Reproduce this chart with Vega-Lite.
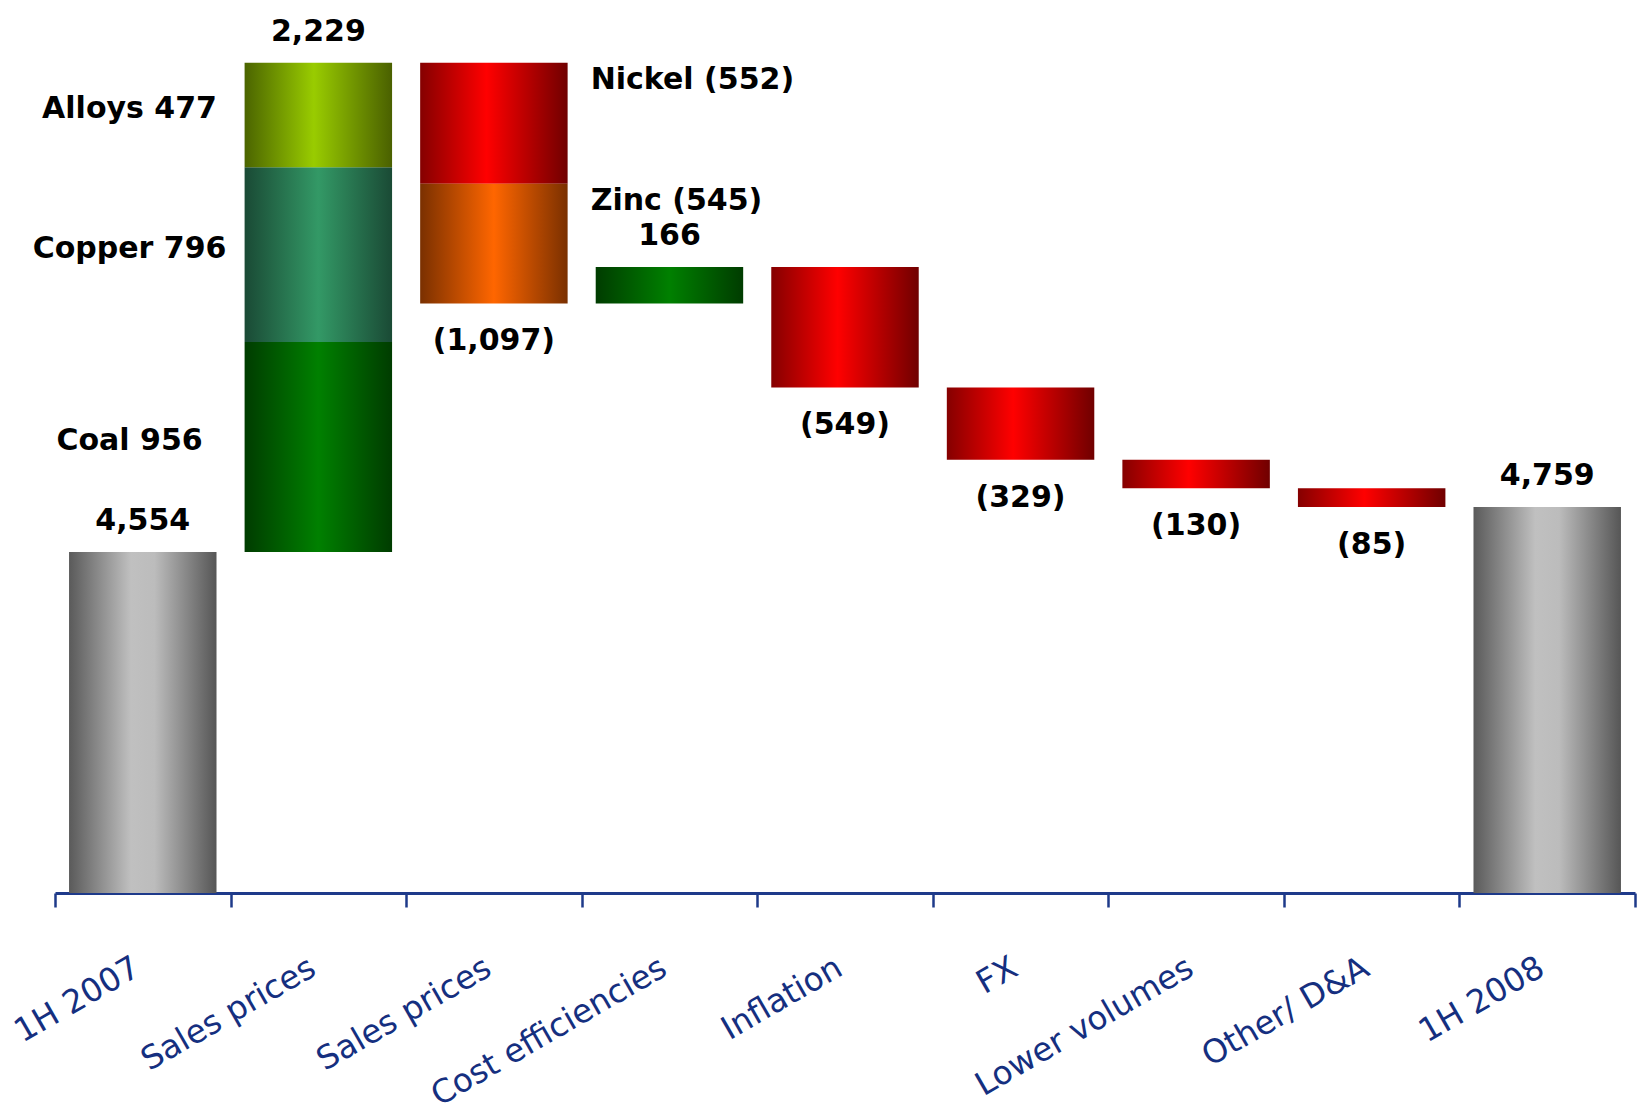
{
  "$schema": "https://vega.github.io/schema/vega-lite/v6.json",
  "width": 1580,
  "height": 878,
  "autosize": {"type": "none"},
  "padding": {"left": 55, "top": 15, "right": 3, "bottom": 226},
  "background": "white",
  "config": {"view": {"stroke": null}},
  "datasets": {
    "bars": [
      {"cat": "1H 2007", "seg": "Base", "y0": 0, "y1": 4554, "grad": "grey"},
      {"cat": "Sales prices", "seg": "Coal", "y0": 4554, "y1": 5510, "grad": "coal"},
      {"cat": "Sales prices", "seg": "Copper", "y0": 5510, "y1": 6306, "grad": "copper"},
      {"cat": "Sales prices", "seg": "Alloys", "y0": 6306, "y1": 6783, "grad": "alloys"},
      {"cat": "Sales prices ", "seg": "Nickel", "y0": 6783, "y1": 6231, "grad": "red"},
      {"cat": "Sales prices ", "seg": "Zinc", "y0": 6231, "y1": 5686, "grad": "orange"},
      {"cat": "Cost efficiencies", "seg": "Cost efficiencies", "y0": 5686, "y1": 5852, "grad": "coal"},
      {"cat": "Inflation", "seg": "Inflation", "y0": 5852, "y1": 5303, "grad": "red"},
      {"cat": "FX", "seg": "FX", "y0": 5303, "y1": 4974, "grad": "red"},
      {"cat": "Lower volumes", "seg": "Lower volumes", "y0": 4974, "y1": 4844, "grad": "red"},
      {"cat": "Other/ D&A", "seg": "Other/ D&A", "y0": 4844, "y1": 4759, "grad": "red"},
      {"cat": "1H 2008", "seg": "Base", "y0": 0, "y1": 4759, "grad": "grey"}
    ],
    "labels": [
      {"cat": "1H 2007", "y": 4554, "text": "4,554", "pos": "top"},
      {"cat": "Sales prices", "y": 6783, "text": "2,229", "pos": "top"},
      {"cat": "Sales prices ", "y": 5686, "text": "(1,097)", "pos": "bottom"},
      {"cat": "Cost efficiencies", "y": 5852, "text": "166", "pos": "top"},
      {"cat": "Inflation", "y": 5303, "text": "(549)", "pos": "bottom"},
      {"cat": "FX", "y": 4974, "text": "(329)", "pos": "bottom"},
      {"cat": "Lower volumes", "y": 4844, "text": "(130)", "pos": "bottom"},
      {"cat": "Other/ D&A", "y": 4759, "text": "(85)", "pos": "bottom"},
      {"cat": "1H 2008", "y": 4759, "text": "4,759", "pos": "top"},
      {"cat": "Sales prices", "y": 6544.5, "text": "Alloys 477", "pos": "left"},
      {"cat": "Sales prices", "y": 5908, "text": "Copper 796", "pos": "left"},
      {"cat": "Sales prices", "y": 5032, "text": "Coal 956", "pos": "left"},
      {"cat": "Sales prices ", "y": 6783, "text": "Nickel (552)", "pos": "right"},
      {"cat": "Sales prices ", "y": 6231, "text": "Zinc (545)", "pos": "right"}
    ]
  },
  "encoding": {
    "x": {
      "field": "cat",
      "type": "nominal",
      "sort": ["1H 2007", "Sales prices", "Sales prices ", "Cost efficiencies", "Inflation", "FX", "Lower volumes", "Other/ D&A", "1H 2008"],
      "scale": {"paddingInner": 0, "paddingOuter": 0},
      "axis": {
        "title": null,
        "tickBand": "extent",
        "labelAngle": -30,
        "labelAlign": "right",
        "labelBaseline": "top",
        "labelFont": "DejaVu Sans",
        "labelFontSize": 32.5,
        "labelColor": "#152f7f",
        "labelPadding": 44,
        "labelOffset": -14,
        "labelLimit": 0,
        "labelOverlap": false,
        "labelBound": false,
        "domainColor": "#1e3a8a",
        "domainWidth": 3,
        "tickColor": "#1e3a8a",
        "tickWidth": 2.5,
        "tickSize": 14
      }
    }
  },
  "layer": [
    {
      "data": {"name": "bars"},
      "transform": [{"filter": "datum.grad === 'grey'"}],
      "mark": {"type": "bar", "clip": true, "width": {"band": 0.84}, "color": {"gradient": "linear", "x1": 0, "y1": 0, "x2": 1, "y2": 0, "stops": [{"offset": 0, "color": "#5a5a5a"}, {"offset": 0.42, "color": "#c0c0c0"}, {"offset": 0.58, "color": "#bcbcbc"}, {"offset": 1, "color": "#565656"}]}},
      "encoding": {
        "y": {"field": "y0", "type": "quantitative", "scale": {"domain": [3000, 7000], "zero": false, "nice": false}, "axis": null},
        "y2": {"field": "y1"}
      }
    },
    {
      "data": {"name": "bars"},
      "transform": [{"filter": "datum.grad === 'coal'"}],
      "mark": {"type": "bar", "clip": true, "width": {"band": 0.84}, "color": {"gradient": "linear", "x1": 0, "y1": 0, "x2": 1, "y2": 0, "stops": [{"offset": 0, "color": "#003c00"}, {"offset": 0.5, "color": "#008000"}, {"offset": 1, "color": "#003c00"}]}},
      "encoding": {
        "y": {"field": "y0", "type": "quantitative", "scale": {"domain": [3000, 7000], "zero": false, "nice": false}, "axis": null},
        "y2": {"field": "y1"}
      }
    },
    {
      "data": {"name": "bars"},
      "transform": [{"filter": "datum.grad === 'copper'"}],
      "mark": {"type": "bar", "clip": true, "width": {"band": 0.84}, "color": {"gradient": "linear", "x1": 0, "y1": 0, "x2": 1, "y2": 0, "stops": [{"offset": 0, "color": "#1a4a35"}, {"offset": 0.5, "color": "#339966"}, {"offset": 1, "color": "#1a4a35"}]}},
      "encoding": {
        "y": {"field": "y0", "type": "quantitative", "scale": {"domain": [3000, 7000], "zero": false, "nice": false}, "axis": null},
        "y2": {"field": "y1"}
      }
    },
    {
      "data": {"name": "bars"},
      "transform": [{"filter": "datum.grad === 'alloys'"}],
      "mark": {"type": "bar", "clip": true, "width": {"band": 0.84}, "color": {"gradient": "linear", "x1": 0, "y1": 0, "x2": 1, "y2": 0, "stops": [{"offset": 0, "color": "#4b6400"}, {"offset": 0.47, "color": "#99cc00"}, {"offset": 1, "color": "#4a6000"}]}},
      "encoding": {
        "y": {"field": "y0", "type": "quantitative", "scale": {"domain": [3000, 7000], "zero": false, "nice": false}, "axis": null},
        "y2": {"field": "y1"}
      }
    },
    {
      "data": {"name": "bars"},
      "transform": [{"filter": "datum.grad === 'red'"}],
      "mark": {"type": "bar", "clip": true, "width": {"band": 0.84}, "color": {"gradient": "linear", "x1": 0, "y1": 0, "x2": 1, "y2": 0, "stops": [{"offset": 0, "color": "#850000"}, {"offset": 0.45, "color": "#ff0000"}, {"offset": 1, "color": "#700000"}]}},
      "encoding": {
        "y": {"field": "y0", "type": "quantitative", "scale": {"domain": [3000, 7000], "zero": false, "nice": false}, "axis": null},
        "y2": {"field": "y1"}
      }
    },
    {
      "data": {"name": "bars"},
      "transform": [{"filter": "datum.grad === 'orange'"}],
      "mark": {"type": "bar", "clip": true, "width": {"band": 0.84}, "color": {"gradient": "linear", "x1": 0, "y1": 0, "x2": 1, "y2": 0, "stops": [{"offset": 0, "color": "#7a3000"}, {"offset": 0.5, "color": "#ff6600"}, {"offset": 1, "color": "#7a3000"}]}},
      "encoding": {
        "y": {"field": "y0", "type": "quantitative", "scale": {"domain": [3000, 7000], "zero": false, "nice": false}, "axis": null},
        "y2": {"field": "y1"}
      }
    },
    {
      "data": {"name": "labels"},
      "transform": [{"filter": "datum.pos === 'top'"}],
      "mark": {"type": "text", "font": "DejaVu Sans", "fontWeight": "bold", "fontSize": 30, "color": "#000000", "baseline": "middle", "align": "center", "dy": -31},
      "encoding": {
        "y": {"field": "y", "type": "quantitative", "scale": {"domain": [3000, 7000], "zero": false, "nice": false}, "axis": null},
        "text": {"field": "text"}
      }
    },
    {
      "data": {"name": "labels"},
      "transform": [{"filter": "datum.pos === 'bottom'"}],
      "mark": {"type": "text", "font": "DejaVu Sans", "fontWeight": "bold", "fontSize": 30, "color": "#000000", "baseline": "middle", "align": "center", "dy": 38},
      "encoding": {
        "y": {"field": "y", "type": "quantitative", "scale": {"domain": [3000, 7000], "zero": false, "nice": false}, "axis": null},
        "text": {"field": "text"}
      }
    },
    {
      "data": {"name": "labels"},
      "transform": [{"filter": "datum.pos === 'left'"}],
      "mark": {"type": "text", "font": "DejaVu Sans", "fontWeight": "bold", "fontSize": 30, "color": "#000000", "baseline": "middle", "align": "center", "dx": -101, "dy": -6},
      "encoding": {
        "x": {"field": "cat", "type": "nominal", "bandPosition": 0, "sort": ["1H 2007", "Sales prices", "Sales prices ", "Cost efficiencies", "Inflation", "FX", "Lower volumes", "Other/ D&A", "1H 2008"]},
        "y": {"field": "y", "type": "quantitative", "scale": {"domain": [3000, 7000], "zero": false, "nice": false}, "axis": null},
        "text": {"field": "text"}
      }
    },
    {
      "data": {"name": "labels"},
      "transform": [{"filter": "datum.pos === 'right'"}],
      "mark": {"type": "text", "font": "DejaVu Sans", "fontWeight": "bold", "fontSize": 30, "color": "#000000", "baseline": "middle", "align": "left", "dx": 9, "dy": 17},
      "encoding": {
        "x": {"field": "cat", "type": "nominal", "bandPosition": 1, "sort": ["1H 2007", "Sales prices", "Sales prices ", "Cost efficiencies", "Inflation", "FX", "Lower volumes", "Other/ D&A", "1H 2008"]},
        "y": {"field": "y", "type": "quantitative", "scale": {"domain": [3000, 7000], "zero": false, "nice": false}, "axis": null},
        "text": {"field": "text"}
      }
    }
  ]
}
